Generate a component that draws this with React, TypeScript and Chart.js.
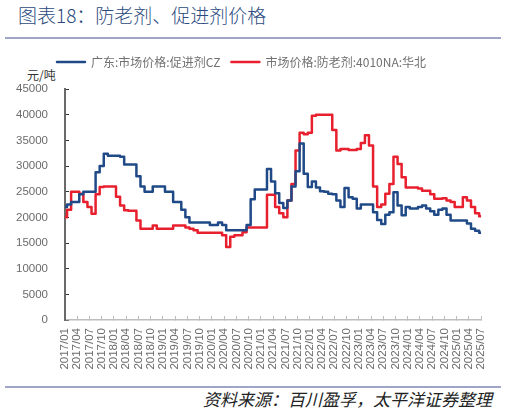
import React, { useEffect, useRef } from 'react';
import { Chart, registerables } from 'chart.js';

Chart.register(...registerables);

const monthLabels: string[] = [];
for (let y = 2017; y <= 2025; y++) {
  for (let m = 1; m <= 12; m++) {
    if (y === 2025 && m > 7) break;
    monthLabels.push(`${y}/${String(m).padStart(2, '0')}`);
  }
}

const seriesNames = ['广东:市场价格:促进剂CZ', '市场价格:防老剂:4010NA:华北'];

const czPrice: number[] = [
  22000, 22500, 23000, 23000, 24500, 25000, 25000, 25000, 28800, 30000, 32400, 32000,
  32000, 32000, 31800, 30300, 30300, 30300, 28000, 26000, 25000, 25000, 26000, 26000,
  26000, 25000, 25000, 23000, 23000, 21500, 20000, 19000, 19000, 19000, 19000, 19000,
  18500, 18500, 19000, 18500, 17500, 17500, 17500, 17500, 17500, 18500, 23500, 25400,
  25400, 25400, 29400, 27000, 24700, 22800, 21800, 23300, 26000, 29000, 34400, 28500,
  25900, 27000, 25800, 25100, 25000, 24600, 24500, 23300, 22000, 25700, 23900, 23600,
  21700, 22500, 22500, 22500, 21000, 19500, 18700, 20500, 21000, 24900, 22300, 20400,
  22000, 21700, 21700, 22000, 22300, 21700, 21200, 20500, 21500, 21700, 20500, 19400,
  19400, 19400, 19400, 18800, 17800, 17400, 17000,
];

const antioxPrice: number[] = [
  20000, 21500, 25000, 25000, 24600, 23000, 22000, 20700, 24500, 25900, 26000, 26000,
  26000, 24000, 22300, 21400, 21300, 21300, 19400, 17800, 17800, 17800, 18400, 17800,
  17800, 17800, 17800, 18400, 18400, 18400, 18000, 17800, 17500, 17000, 17000, 17000,
  17000, 17000, 17000, 16500, 14200, 16200, 16500, 16500, 17100, 18000, 18000, 18000,
  18000, 18000, 24400, 24400, 22000, 20800, 20000, 23300, 26500, 33000, 36500, 36200,
  36500, 39800, 40000, 40000, 40000, 40000, 37000, 33000, 33300, 33300, 33100, 33100,
  33300, 34500, 36000, 34000, 26000, 22000, 22500, 24600, 26500, 31800, 30400, 27800,
  25800, 25800, 25800, 25600, 25200, 25200, 24500, 23600, 23600, 23700, 23300, 23000,
  22000, 22000, 23900, 23300, 22000, 20800, 20200,
];

const BLUE = '#1f4a87';
const RED = '#e8202e';
const Y_AXIS = '#6a6a6a';
const X_AXIS = '#bdbdbd';
const TICK_COLOR = '#6b6b6b';
const FONT = '"Liberation Sans", Arial, sans-serif';
const CJK = '"Noto Sans CJK SC", "Noto Sans", sans-serif';

const legendSpacer = {
  id: 'legendSpacer',
  beforeInit(chart: any) {
    const legend = chart.legend;
    if (!legend) return;
    const orig = legend.fit;
    legend.fit = function () {
      orig.call(this);
      this.height += 11;
    };
  },
};

export default function App() {
  const ref = useRef<HTMLCanvasElement>(null);

  useEffect(() => {
    const chart = new Chart(ref.current as HTMLCanvasElement, {
      type: 'line',
      data: {
        datasets: [
          {
            label: seriesNames[0],
            data: czPrice.map((v, i) => ({ x: i, y: v })),
            borderColor: BLUE,
            backgroundColor: BLUE,
            borderWidth: 2.5,
            pointRadius: 0,
            tension: 0,
            stepped: 'middle',
            borderJoinStyle: 'round',
          },
          {
            label: seriesNames[1],
            data: antioxPrice.map((v, i) => ({ x: i, y: v })),
            borderColor: RED,
            backgroundColor: RED,
            borderWidth: 2.5,
            pointRadius: 0,
            tension: 0,
            stepped: 'middle',
            borderJoinStyle: 'round',
          },
        ],
      },
      options: {
        animation: false,
        responsive: false,
        maintainAspectRatio: false,
        layout: { padding: { left: 0, right: 24, top: 0, bottom: 0 } },
        plugins: {
          legend: {
            labels: {
              boxWidth: 28,
              boxHeight: 0,
              padding: 11,
              color: '#707070',
              font: { family: CJK, size: 12 },
            },
          },
          tooltip: { enabled: false },
        },
        scales: {
          x: {
            type: 'linear',
            min: 0,
            max: monthLabels.length - 1,
            afterFit: (s: any) => {
              s.height = 55;
            },
            ticks: {
              stepSize: 3,
              autoSkip: false,
              maxRotation: 90,
              minRotation: 90,
              padding: 12,
              color: TICK_COLOR,
              font: { family: FONT, size: 11.5 },
              callback: (v: any) => monthLabels[v as number] ?? '',
            },
            grid: { drawOnChartArea: false, tickLength: -4, color: X_AXIS, lineWidth: 1 },
            border: { color: X_AXIS, width: 1.5 },
          },
          y: {
            min: 0,
            max: 45000,
            afterFit: (s: any) => {
              s.width = 65;
            },
            ticks: {
              stepSize: 5000,
              padding: 21,
              color: TICK_COLOR,
              font: { family: FONT, size: 11.5 },
              callback: (v: any) => String(v),
            },
            grid: { drawOnChartArea: false, tickLength: -4, color: '#333333', lineWidth: 1 },
            border: { color: Y_AXIS, width: 2 },
          },
        },
      },
      plugins: [legendSpacer],
    } as any);
    return () => chart.destroy();
  }, []);

  return (
    <div
      style={{
        position: 'fixed',
        left: 0,
        top: 0,
        width: 507,
        height: 413,
        background: '#ffffff',
        overflow: 'hidden',
      }}
    >
      <div
        style={{
          position: 'absolute',
          left: 18,
          top: 2,
          fontFamily: CJK,
          fontSize: 19,
          fontWeight: 300,
          lineHeight: '26px',
          color: '#2b4a80',
          whiteSpace: 'nowrap',
        }}
      >
        图表18：防老剂、促进剂价格
      </div>
      <div
        style={{
          position: 'absolute',
          left: 5,
          top: 37,
          width: 496,
          height: 2,
          background: '#a0a5c6',
        }}
      />
      <div
        style={{
          position: 'absolute',
          left: 27,
          top: 67,
          fontFamily: CJK,
          fontSize: 12,
          lineHeight: '16px',
          color: '#333333',
          whiteSpace: 'nowrap',
        }}
      >
        元/吨
      </div>
      <canvas
        ref={ref}
        width={507}
        height={330}
        style={{ position: 'absolute', left: 0, top: 45, width: 507, height: 330 }}
      />
      <div
        style={{
          position: 'absolute',
          left: 5,
          top: 386,
          width: 496,
          height: 2,
          background: '#a0a5c6',
        }}
      />
      <div
        style={{
          position: 'absolute',
          right: 15,
          top: 388,
          fontFamily: CJK,
          fontSize: 17,
          fontStyle: 'italic',
          lineHeight: '22px',
          color: '#222222',
          whiteSpace: 'nowrap',
        }}
      >
        资料来源：百川盈孚，太平洋证券整理
      </div>
    </div>
  );
}
